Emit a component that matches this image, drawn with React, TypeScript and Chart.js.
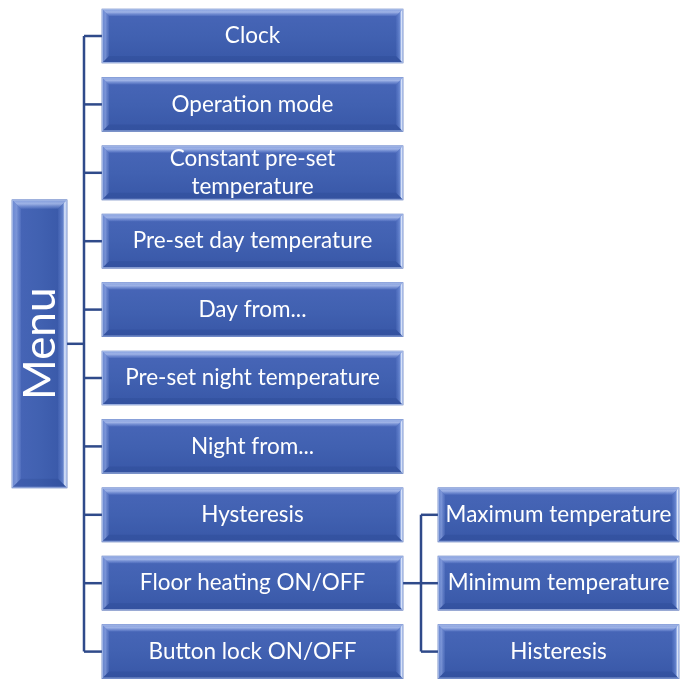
import React, { useEffect, useRef } from "react";
import { Chart, registerables } from "chart.js";

Chart.register(...registerables);

// ---- content ----
const rootLabel = "Menu";
const menuItems = [
  "Clock",
  "Operation mode",
  "Constant pre-set\ntemperature",
  "Pre-set day temperature",
  "Day from...",
  "Pre-set night temperature",
  "Night from...",
  "Hysteresis",
  "Floor heating ON/OFF",
  "Button lock ON/OFF",
];
const subParent = "Floor heating ON/OFF";
const subItems = ["Maximum temperature", "Minimum temperature", "Histeresis"];

// ---- layout (pixels) ----
const W = 686;
const H = 680;
const ROW_PITCH = 68.4;
const FIRST_CENTER = 36;
const BOX_H = 54;
const ROOT_H = 288;
const COL_ROOT: [number, number] = [12, 67];
const COL_L1: [number, number] = [102, 403];
const COL_L2: [number, number] = [438, 679];
const TRUNK1 = 84;
const TRUNK2 = 421;
const LINE_COLOR = "#2f4a8a";
const FONT = "Lato, 'Open Sans', sans-serif";
const SOLID = "#3f5fb0";

const parentIdx = menuItems.indexOf(subParent);
const subRows = subItems.map((_, i) => parentIdx - Math.floor(subItems.length / 2) + i);
const rootRow = (menuItems.length - 1) / 2;

function fillFor(chart: any, rowVal: any, thickness: number, horizontal = false, x0 = 0, x1 = 0) {
  const c = chart.ctx;
  const ys = chart.scales && chart.scales.y;
  const xs = chart.scales && chart.scales.x;
  if (!ys || !xs || typeof rowVal !== "number") return SOLID;
  const cy = ys.getPixelForValue(rowVal);
  const px0 = xs.getPixelForValue(x0);
  const px1 = xs.getPixelForValue(x1);
  if (!isFinite(cy) || !isFinite(px0) || !isFinite(px1)) return SOLID;
  const g = horizontal
    ? c.createLinearGradient(px0, 0, px1, 0)
    : c.createLinearGradient(0, cy - thickness / 2, 0, cy + thickness / 2);
  g.addColorStop(0, "#4866b8");
  g.addColorStop(0.5, "#4161b1");
  g.addColorStop(1, "#3857a7");
  return g;
}

function bevel(c: CanvasRenderingContext2D, l: number, t: number, r: number, b: number, bw: number) {
  c.save();
  // top
  c.beginPath();
  c.moveTo(l, t); c.lineTo(r, t); c.lineTo(r - bw, t + bw); c.lineTo(l + bw, t + bw); c.closePath();
  const gt = c.createLinearGradient(0, t, 0, t + bw);
  gt.addColorStop(0, "rgba(150,175,235,0.75)");
  gt.addColorStop(0.45, "rgba(205,220,255,0.65)");
  gt.addColorStop(1, "rgba(150,175,240,0.15)");
  c.fillStyle = gt;
  c.fill();
  // left
  c.beginPath();
  c.moveTo(l, t); c.lineTo(l + bw, t + bw); c.lineTo(l + bw, b - bw); c.lineTo(l, b); c.closePath();
  const gl = c.createLinearGradient(l, 0, l + bw, 0);
  gl.addColorStop(0, "rgba(150,178,240,0.45)");
  gl.addColorStop(0.5, "rgba(185,205,255,0.45)");
  gl.addColorStop(1, "rgba(150,175,240,0.12)");
  c.fillStyle = gl;
  c.fill();
  // right
  c.beginPath();
  c.moveTo(r, t); c.lineTo(r, b); c.lineTo(r - bw, b - bw); c.lineTo(r - bw, t + bw); c.closePath();
  const gr = c.createLinearGradient(r - bw, 0, r, 0);
  gr.addColorStop(0, "rgba(120,150,225,0.10)");
  gr.addColorStop(0.55, "rgba(150,180,245,0.45)");
  gr.addColorStop(0.75, "rgba(235,242,255,0.95)");
  gr.addColorStop(1, "rgba(170,195,245,0.8)");
  c.fillStyle = gr;
  c.fill();
  // bottom
  c.beginPath();
  c.moveTo(l, b); c.lineTo(r, b); c.lineTo(r - bw, b - bw); c.lineTo(l + bw, b - bw); c.closePath();
  c.fillStyle = "rgba(20,40,110,0.12)";
  c.fill();
  // light outline
  c.strokeStyle = "rgba(165,185,230,0.9)";
  c.lineWidth = 1;
  c.strokeRect(l + 0.5, t + 0.5, r - l - 1, b - t - 1);
  c.restore();
}

const boxPlugin = {
  id: "boxDeco",
  afterDatasetsDraw(chart: any) {
    const c = chart.ctx;
    chart.data.datasets.forEach((ds: any, di: number) => {
      if (ds.type !== "bar") return;
      const meta = chart.getDatasetMeta(di);
      meta.data.forEach((el: any, i: number) => {
        const p = el.getProps(["x", "y", "base", "height"], true);
        const l = Math.min(p.x, p.base);
        const r = Math.max(p.x, p.base);
        const t = p.y - p.height / 2;
        const b = p.y + p.height / 2;
        const isRoot = ds.label === "root";
        bevel(c, l, t, r, b, isRoot ? 9 : 7);
        const text: string = ds.texts[i];
        c.save();
        c.fillStyle = "#ffffff";
        c.textAlign = "center";
        c.textBaseline = "middle";
        if (isRoot) {
          c.translate((l + r) / 2 + 1, p.y);
          c.rotate(-Math.PI / 2);
          c.font = `44px ${FONT}`;
          c.fillText(text, 0, 0);
        } else {
          c.font = `22.5px ${FONT}`;
          const lines = text.split("\n");
          const lh = 28;
          lines.forEach((ln, k) => {
            c.fillText(ln, (l + r) / 2, p.y + (k - (lines.length - 1) / 2) * lh);
          });
        }
        c.restore();
      });
    });
  },
};

function segment(points: { x: number; y: number }[]) {
  return {
    type: "line" as const,
    label: "link",
    data: points,
    borderColor: LINE_COLOR,
    borderWidth: 2.5,
    pointRadius: 0,
    fill: false,
    tension: 0,
    order: 5,
    clip: false,
  };
}

export default function App() {
  const ref = useRef<HTMLCanvasElement | null>(null);

  useEffect(() => {
    if (!ref.current) return;

    const links: any[] = [];
    links.push(segment([{ x: COL_ROOT[1], y: rootRow }, { x: TRUNK1, y: rootRow }]));
    links.push(segment([{ x: TRUNK1, y: 0 }, { x: TRUNK1, y: menuItems.length - 1 }]));
    menuItems.forEach((_, i) => links.push(segment([{ x: TRUNK1, y: i }, { x: COL_L1[0], y: i }])));
    links.push(segment([{ x: COL_L1[1], y: parentIdx }, { x: TRUNK2, y: parentIdx }]));
    links.push(segment([{ x: TRUNK2, y: subRows[0] }, { x: TRUNK2, y: subRows[subRows.length - 1] }]));
    subRows.forEach((r) => links.push(segment([{ x: TRUNK2, y: r }, { x: COL_L2[0], y: r }])));

    const barBase = {
      type: "bar" as const,
      indexAxis: "y" as const,
      grouped: false,
      borderSkipped: false,
      borderWidth: 0,
      order: 1,
      clip: false,
    };

    const chart = new Chart(ref.current, {
      type: "bar",
      data: {
        datasets: [
          ...links,
          {
            ...barBase,
            label: "root",
            texts: [rootLabel],
            data: [{ x: COL_ROOT, y: rootRow }],
            barThickness: ROOT_H,
            backgroundColor: (ctx: any) => fillFor(ctx.chart, rootRow, ROOT_H, true, COL_ROOT[0], COL_ROOT[1]),
          },
          {
            ...barBase,
            label: "level1",
            texts: menuItems,
            data: menuItems.map((_, i) => ({ x: COL_L1, y: i })),
            barThickness: BOX_H,
            backgroundColor: (ctx: any) => fillFor(ctx.chart, ctx.dataIndex, BOX_H),
          },
          {
            ...barBase,
            label: "level2",
            texts: subItems,
            data: subRows.map((r) => ({ x: COL_L2, y: r })),
            barThickness: BOX_H,
            backgroundColor: (ctx: any) =>
              fillFor(ctx.chart, typeof ctx.dataIndex === "number" ? subRows[ctx.dataIndex] : undefined, BOX_H),
          },
        ] as any,
      },
      options: {
        animation: false,
        responsive: false,
        devicePixelRatio: 1,
        maintainAspectRatio: false,
        layout: { padding: 0, autoPadding: false },
        plugins: { legend: { display: false }, tooltip: { enabled: false } },
        events: [],
        scales: {
          x: { type: "linear", min: 0, max: W, display: false, offset: false, grid: { offset: false } },
          y: {
            type: "linear",
            reverse: true,
            min: -FIRST_CENTER / ROW_PITCH,
            max: (H - FIRST_CENTER) / ROW_PITCH,
            display: false,
            offset: false,
            grid: { offset: false },
          },
        },
      } as any,
      plugins: [boxPlugin],
    });

    return () => chart.destroy();
  }, []);

  return (
    <div style={{ position: "fixed", left: 0, top: 0, width: W, height: H, background: "#ffffff" }}>
      <canvas ref={ref} width={W} height={H} style={{ display: "block" }} />
    </div>
  );
}
